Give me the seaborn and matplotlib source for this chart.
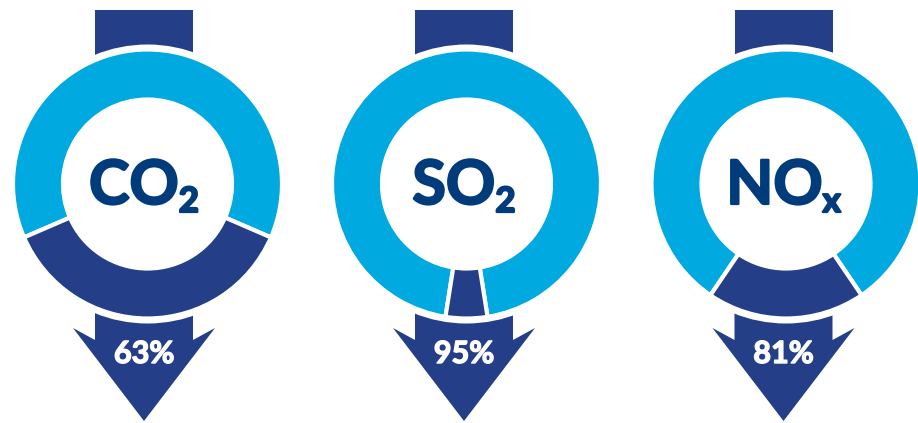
import matplotlib
matplotlib.use("Agg")
import matplotlib.pyplot as plt
from matplotlib.patches import Rectangle, Polygon, Circle
import matplotlib.patheffects as pe
import seaborn as sns

# ---- data ----
gases = ["CO", "SO", "NO"]
subscripts = ["2", "2", "x"]
reduction_pct = [63, 95, 81]

# ---- style ----
sns.set_theme(style="white")
plt.rcParams['font.family'] = ['Lato', 'DejaVu Sans']
light_blue, dark_blue = sns.color_palette(["#00A9E0", "#243F88"])
text_navy = "#003B7C"

W, H = 918, 423
fig = plt.figure(figsize=(W / 100, H / 100), dpi=100)
ax = fig.add_axes([0, 0, 1, 1])

def Y(y):
    return H - y

donut_cx = [147.5, 466.5, 786]
stem_cx = [144, 464, 783.5]
cy = 184

renderer = fig.canvas.get_renderer()
navy_fx = [pe.withStroke(linewidth=1.6, foreground=text_navy)]
white_fx = [pe.withStroke(linewidth=1.0, foreground="white")]

for gas, sub, pct, cx, sx in zip(gases, subscripts, reduction_pct, donut_cx, stem_cx):
    # stem on top
    ax.add_patch(Rectangle((sx - 49, Y(90)), 98, 80, facecolor=dark_blue,
                           edgecolor="none", zorder=1))
    # arrow below
    pts = [(sx - 49, 250), (sx + 49, 250), (sx + 49, 340), (sx + 71, 328),
           (sx, 421), (sx - 71, 328), (sx - 49, 340)]
    ax.add_patch(Polygon([(x, Y(y)) for x, y in pts], closed=True,
                         facecolor=dark_blue, edgecolor="none", zorder=1))
    # white halo around donut
    ax.add_patch(Circle((cx, Y(cy)), 139.5, facecolor="white",
                        edgecolor="none", zorder=2))
    # donut
    wedges, _ = ax.pie([pct, 100 - pct], colors=[light_blue, dark_blue],
                       startangle=270 + (100 - pct) * 1.8,
                       center=(cx, Y(cy)), radius=134.5,
                       wedgeprops=dict(width=50, edgecolor="white", linewidth=3),
                       frame=True)
    for w in wedges:
        w.set_zorder(3)

    # center label with subscript
    t_main = ax.text(0, Y(cy + 20), gas, fontsize=44, fontweight="bold",
                     color=text_navy, ha="left", va="baseline", zorder=5,
                     path_effects=navy_fx)
    t_sub = ax.text(0, Y(cy + 28), sub, fontsize=25, fontweight="bold",
                    color=text_navy, ha="left", va="baseline", zorder=5,
                    path_effects=navy_fx)
    wm = t_main.get_window_extent(renderer).width
    ws = t_sub.get_window_extent(renderer).width
    gap = 0
    x0 = sx - (wm + gap + ws) / 2
    t_main.set_x(x0)
    t_sub.set_x(x0 + wm + gap)

    # percentage on arrow
    ax.text(sx, Y(363), f"{pct}%", fontsize=22, fontweight="bold",
            color="white", ha="center", va="baseline", zorder=5,
            path_effects=white_fx)

ax.set_xlim(0, W)
ax.set_ylim(0, H)
ax.set_aspect("equal")
ax.axis("off")

fig.savefig("out.png", dpi=100, facecolor="white")
